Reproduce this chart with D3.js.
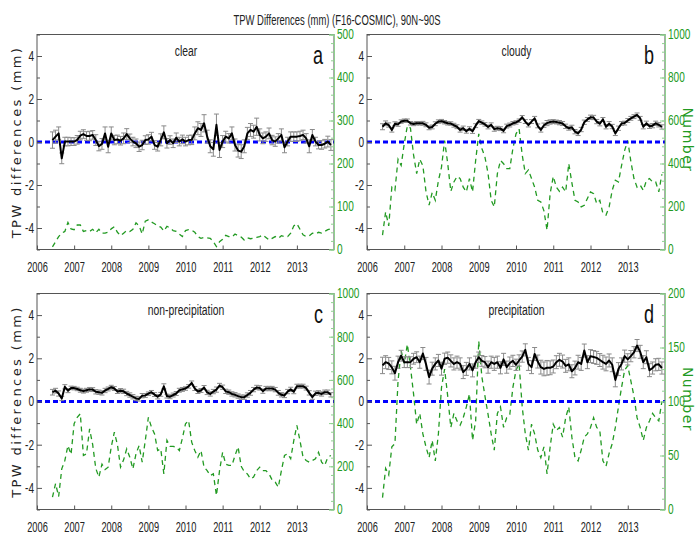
<!DOCTYPE html>
<html>
<head>
<meta charset="utf-8">
<script src="https://cdn.jsdelivr.net/npm/d3@7"></script>
<style>
  body { margin: 0; background: #fff; }
  svg text { font-family: "Liberation Sans", Arial, sans-serif; }
</style>
</head>
<body>
<script>
// monthly series, June 2006 .. Dec 2013
const firstMonth = [2006, 6]
const years = [2006, 2007, 2008, 2009, 2010, 2011, 2012, 2013]
const leftTicks = [-4, -2, 0, 2, 4]
const leftMinor = [-5, -3, -1, 1, 3, 5]
const panelNames = ["clear", "cloudy", "non-precipitation", "precipitation"]
const panelLetters = ["a", "b", "c", "d"]

const clearDiff = [0.09, 0.25, 0.40, -0.76, 0.02, 0.02, 0.02, 0.02, 0.10, 0.30,
  0.37, 0.28, 0.28, 0.33, 0.09, -0.19, -0.09, 0.40, -0.22, 0.40,
  0.09, 0.12, 0.06, 0.17, 0.37, 0.17, 0.02, -0.06, -0.22, -0.14,
  0.09, 0.12, 0.25, -0.14, -0.22, 0.10, 0.45, -0.06, 0.09, -0.06,
  0.20, 0.02, 0.12, 0.02, 0.09, 0.10, 0.40, 0.64, 0.56, 0.87,
  0.25, -0.20, -0.34, 0.80, -0.37, 0.02, 0.25, 0.17, 0.40, -0.14,
  -0.40, -0.45, -0.20, 0.40, 0.56, 0.48, 0.71, 0.33, 0.17, 0.25,
  0.40, 0.09, 0.02, 0.17, 0.33, -0.25, 0.02, 0.25, 0.25, 0.25,
  0.28, 0.33, 0.17, -0.20, 0.33, 0.02, -0.14, -0.14, -0.08, 0.02, -0.14]
const clearErr = [0.38, 0.30, 0.30, 0.25, 0.20, 0.20, 0.18, 0.18, 0.20, 0.20,
  0.20, 0.20, 0.22, 0.20, 0.25, 0.22, 0.25, 0.30, 0.28, 0.30,
  0.22, 0.20, 0.20, 0.25, 0.25, 0.20, 0.20, 0.20, 0.22, 0.22,
  0.20, 0.22, 0.20, 0.20, 0.20, 0.28, 0.30, 0.22, 0.20, 0.20,
  0.22, 0.20, 0.20, 0.20, 0.22, 0.22, 0.30, 0.30, 0.30, 0.40,
  0.30, 0.30, 0.32, 0.50, 0.35, 0.28, 0.25, 0.22, 0.30, 0.28,
  0.30, 0.32, 0.30, 0.28, 0.30, 0.30, 0.40, 0.28, 0.25, 0.22,
  0.25, 0.22, 0.22, 0.22, 0.28, 0.25, 0.20, 0.22, 0.22, 0.22,
  0.22, 0.22, 0.22, 0.30, 0.25, 0.20, 0.18, 0.20, 0.20, 0.25, 0.25]
const clearNum = [6, 18, 30, 38, 42, 63, 48, 46, 57, 57,
  42, 44, 42, 47, 39, 47, 38, 38, 40, 48,
  53, 40, 32, 38, 44, 42, 47, 62, 55, 36,
  66, 69, 64, 60, 55, 52, 43, 54, 50, 44,
  42, 36, 30, 44, 46, 45, 40, 30, 26, 28,
  27, 26, 18, 7, 18, 24, 33, 30, 29, 36,
  32, 29, 22, 27, 25, 26, 28, 30, 34, 28,
  22, 26, 30, 26, 32, 30, 30, 38, 55, 60,
  47, 34, 30, 32, 38, 36, 40, 38, 42, 46, 48]

const cloudyDiff = [0.71, 0.87, 0.79, 0.56, 0.85, 0.82, 0.95, 0.99, 0.99, 0.87,
  0.84, 0.87, 0.87, 0.87, 0.80, 0.66, 0.70, 0.85, 0.95, 0.97,
  0.92, 0.87, 0.86, 0.78, 0.71, 0.56, 0.64, 0.50, 0.62, 0.50,
  0.76, 0.97, 0.90, 0.82, 0.70, 0.80, 0.60, 0.64, 0.62, 0.52,
  0.74, 0.79, 0.87, 0.91, 0.99, 1.15, 0.95, 0.79, 0.95, 1.10,
  0.75, 0.56, 0.78, 0.88, 0.93, 0.95, 0.93, 0.90, 0.86, 0.73,
  0.64, 0.68, 0.48, 0.40, 0.58, 0.92, 1.05, 1.15, 1.14, 0.95,
  0.85, 1.05, 0.71, 0.85, 0.72, 0.40, 0.64, 0.86, 0.88, 1.00,
  1.10, 1.18, 1.26, 1.10, 0.71, 0.87, 0.73, 0.76, 0.87, 0.80, 0.70]
const cloudyErr = [0.14, 0.11, 0.10, 0.10, 0.09, 0.09, 0.08, 0.08, 0.08, 0.08,
  0.08, 0.08, 0.08, 0.09, 0.09, 0.09, 0.09, 0.09, 0.08, 0.08,
  0.08, 0.08, 0.08, 0.09, 0.09, 0.10, 0.10, 0.09, 0.09, 0.10,
  0.09, 0.08, 0.08, 0.08, 0.09, 0.09, 0.10, 0.09, 0.09, 0.09,
  0.09, 0.09, 0.08, 0.08, 0.08, 0.08, 0.09, 0.09, 0.09, 0.09,
  0.09, 0.10, 0.10, 0.12, 0.10, 0.09, 0.09, 0.10, 0.09, 0.10,
  0.09, 0.10, 0.10, 0.10, 0.10, 0.10, 0.09, 0.10, 0.10, 0.10,
  0.10, 0.09, 0.10, 0.10, 0.10, 0.10, 0.10, 0.09, 0.09, 0.09,
  0.09, 0.09, 0.09, 0.09, 0.10, 0.10, 0.10, 0.10, 0.10, 0.10, 0.10]
const cloudyNum = [67, 175, 110, 290, 275, 420, 391, 492, 575, 565,
  440, 353, 420, 390, 270, 206, 265, 229, 320, 383,
  507, 400, 270, 314, 340, 330, 290, 268, 330, 268,
  414, 538, 470, 430, 353, 229, 198, 353, 414, 399,
  376, 376, 470, 538, 561, 440, 353, 370, 330, 290,
  229, 221, 180, 90, 260, 340, 290, 270, 290, 268,
  400, 310, 229, 221, 198, 206, 237, 268, 260, 214,
  229, 168, 160, 198, 275, 322, 314, 390, 461, 507,
  410, 330, 290, 300, 275, 320, 330, 314, 314, 268, 350]

const nonPrecipDiff = [0.43, 0.50, 0.37, 0.14, 0.68, 0.50, 0.63, 0.62, 0.58, 0.52,
  0.48, 0.52, 0.56, 0.55, 0.45, 0.43, 0.40, 0.51, 0.58, 0.66,
  0.60, 0.46, 0.50, 0.47, 0.37, 0.30, 0.22, 0.14, 0.12, 0.27,
  0.28, 0.36, 0.43, 0.32, 0.22, 0.33, 0.70, 0.25, 0.22, 0.30,
  0.37, 0.52, 0.56, 0.60, 0.70, 0.86, 0.60, 0.46, 0.51, 0.65,
  0.42, 0.35, 0.46, 0.55, 0.74, 0.66, 0.47, 0.43, 0.35, 0.31,
  0.25, 0.20, 0.20, 0.30, 0.40, 0.55, 0.65, 0.63, 0.48, 0.60,
  0.60, 0.60, 0.55, 0.40, 0.31, 0.28, 0.46, 0.56, 0.45, 0.71,
  0.71, 0.71, 0.62, 0.40, 0.20, 0.38, 0.40, 0.35, 0.43, 0.43, 0.31]
const nonPrecipErr = [0.13, 0.11, 0.12, 0.10, 0.10, 0.09, 0.08, 0.08, 0.08, 0.09,
  0.09, 0.09, 0.09, 0.09, 0.10, 0.10, 0.10, 0.10, 0.09, 0.09,
  0.09, 0.09, 0.10, 0.10, 0.10, 0.10, 0.10, 0.10, 0.10, 0.10,
  0.09, 0.08, 0.08, 0.09, 0.10, 0.09, 0.12, 0.09, 0.09, 0.09,
  0.09, 0.09, 0.09, 0.08, 0.08, 0.09, 0.09, 0.09, 0.09, 0.09,
  0.10, 0.10, 0.10, 0.12, 0.10, 0.10, 0.10, 0.10, 0.10, 0.10,
  0.10, 0.10, 0.10, 0.10, 0.11, 0.10, 0.10, 0.10, 0.10, 0.10,
  0.10, 0.10, 0.10, 0.11, 0.10, 0.10, 0.10, 0.10, 0.09, 0.09,
  0.09, 0.09, 0.09, 0.10, 0.10, 0.10, 0.10, 0.10, 0.10, 0.10, 0.10]
const nonPrecipNum = [57, 120, 60, 188, 227, 296, 255, 397, 427, 443,
  250, 258, 373, 300, 190, 150, 210, 185, 196, 290,
  358, 300, 196, 230, 281, 242, 188, 258, 296, 219,
  319, 427, 381, 350, 273, 281, 165, 320, 292, 292,
  289, 273, 330, 397, 412, 312, 273, 242, 273, 196,
  180, 157, 165, 65, 180, 265, 210, 204, 204, 250,
  290, 200, 175, 165, 142, 150, 180, 196, 180, 180,
  165, 137, 127, 103, 180, 250, 258, 235, 319, 389,
  319, 242, 227, 219, 227, 235, 265, 219, 204, 242, 250]

const precipDiff = [1.67, 1.82, 1.76, 1.58, 1.31, 1.82, 2.12, 1.82, 1.82, 1.82,
  1.98, 2.05, 1.82, 2.22, 1.74, 1.13, 1.52, 1.74, 1.90, 1.52,
  1.98, 2.03, 1.88, 1.74, 1.82, 1.74, 1.36, 1.51, 1.74, 1.44,
  1.82, 2.05, 1.88, 1.82, 1.59, 1.82, 1.74, 1.82, 1.56, 1.95,
  1.59, 1.78, 1.88, 1.70, 1.90, 2.08, 2.39, 1.74, 1.59, 2.20,
  1.85, 1.59, 1.51, 1.56, 1.56, 1.62, 1.82, 1.93, 1.85, 1.65,
  1.72, 1.40, 1.55, 1.82, 1.74, 2.36, 1.82, 2.10, 2.06, 2.02,
  1.92, 1.82, 1.74, 1.90, 1.70, 1.00, 1.50, 1.74, 2.10, 1.95,
  2.10, 2.28, 2.59, 2.30, 1.82, 2.05, 1.45, 1.55, 1.70, 1.72, 1.55]
const precipErr = [0.38, 0.30, 0.28, 0.30, 0.32, 0.28, 0.25, 0.25, 0.25, 0.25,
  0.25, 0.25, 0.28, 0.28, 0.30, 0.32, 0.30, 0.28, 0.28, 0.30,
  0.26, 0.26, 0.28, 0.28, 0.28, 0.28, 0.30, 0.30, 0.28, 0.30,
  0.28, 0.24, 0.25, 0.26, 0.28, 0.28, 0.30, 0.28, 0.28, 0.28,
  0.28, 0.28, 0.26, 0.26, 0.26, 0.26, 0.28, 0.30, 0.30, 0.30,
  0.30, 0.32, 0.32, 0.34, 0.32, 0.30, 0.30, 0.30, 0.30, 0.30,
  0.30, 0.30, 0.32, 0.32, 0.30, 0.30, 0.30, 0.30, 0.30, 0.30,
  0.30, 0.32, 0.32, 0.30, 0.32, 0.32, 0.30, 0.28, 0.28, 0.26,
  0.26, 0.26, 0.28, 0.30, 0.30, 0.30, 0.30, 0.28, 0.28, 0.28, 0.28]
const precipNum = [11, 38, 32, 58, 61, 119, 147, 135, 153, 132,
  107, 79, 89, 70, 58, 48, 64, 45, 70, 113,
  130, 105, 76, 89, 82, 78, 85, 95, 107, 64,
  82, 156, 123, 105, 88, 70, 55, 89, 95, 76,
  85, 88, 113, 129, 135, 95, 70, 55, 79, 70,
  55, 48, 58, 33, 58, 79, 73, 76, 67, 85,
  95, 67, 48, 45, 55, 67, 70, 76, 85, 76,
  73, 45, 40, 52, 61, 76, 95, 113, 129, 133,
  119, 105, 85, 76, 64, 76, 82, 89, 85, 82, 100]

const numMax = [500, 1000, 1000, 200]
const numStep = [100, 200, 200, 50]
const numMinor = [20, 40, 40, 10]

const diffs = [clearDiff, cloudyDiff, nonPrecipDiff, precipDiff]
const errs = [clearErr, cloudyErr, nonPrecipErr, precipErr]
const nums = [clearNum, cloudyNum, nonPrecipNum, precipNum]

const width = 697, height = 537
const green = "#229a22"
const boxes = [
  { left: 37, right: 334, top: 34.5, bottom: 249.5 },
  { left: 367, right: 665, top: 34.5, bottom: 249.5 },
  { left: 37, right: 334, top: 293.5, bottom: 509.5 },
  { left: 367, right: 665, top: 293.5, bottom: 509.5 }
]

const monthX = i => firstMonth[0] + (firstMonth[1] - 1 + i) / 12

// squeeze glyphs horizontally, the original uses a condensed face
const narrow = (sel, k) => sel.each(function () {
  const w = this.getComputedTextLength()
  d3.select(this).attr("textLength", w * k).attr("lengthAdjust", "spacingAndGlyphs")
})

const svg = d3.select("body").append("svg")
  .attr("width", width).attr("height", height)
  .attr("viewBox", [0, 0, width, height])

svg.append("text")
  .attr("x", 337).attr("y", 25)
  .attr("text-anchor", "middle")
  .attr("font-size", 14)
  .attr("fill", "#222")
  .text("TPW Differences (mm) (F16-COSMIC), 90N~90S")
  .attr("textLength", 207)
  .attr("lengthAdjust", "spacingAndGlyphs")

boxes.forEach((b, p) => {
  const x = d3.scaleLinear().domain([2006, 2014]).range([b.left, b.right])
  const y = d3.scaleLinear().domain([-5, 5]).range([b.bottom, b.top])
  const y2 = d3.scaleLinear().domain([0, numMax[p]]).range([b.bottom, b.top])
  const g = svg.append("g")

  // number of samples (right axis)
  const numLine = d3.line()
    .x((d, i) => x(monthX(i)))
    .y(d => y2(d))
  g.append("path")
    .datum(nums[p])
    .attr("fill", "none")
    .attr("stroke", green)
    .attr("stroke-width", 1.3)
    .attr("stroke-dasharray", "5,4")
    .attr("d", numLine)

  // zero line
  g.append("line")
    .attr("x1", b.left).attr("x2", b.right)
    .attr("y1", y(0)).attr("y2", y(0))
    .attr("stroke", "#0000ff")
    .attr("stroke-width", 3)
    .attr("stroke-dasharray", "5,3")

  // error bars
  const eb = g.append("g").attr("stroke", "#8a8a8a").attr("stroke-width", 1)
  diffs[p].forEach((v, i) => {
    const xi = x(monthX(i))
    const lo = y(v - errs[p][i]), hi = y(v + errs[p][i])
    eb.append("line").attr("x1", xi).attr("x2", xi).attr("y1", lo).attr("y2", hi)
    eb.append("line").attr("x1", xi - 2.5).attr("x2", xi + 2.5).attr("y1", lo).attr("y2", lo)
    eb.append("line").attr("x1", xi - 2.5).attr("x2", xi + 2.5).attr("y1", hi).attr("y2", hi)
  })

  const diffLine = d3.line()
    .x((d, i) => x(monthX(i)))
    .y(d => y(d))
  g.append("path")
    .datum(diffs[p])
    .attr("fill", "none")
    .attr("stroke", "#000")
    .attr("stroke-width", 2)
    .attr("stroke-linejoin", "round")
    .attr("d", diffLine)

  // frame
  g.append("rect")
    .attr("x", b.left).attr("y", b.top)
    .attr("width", b.right - b.left).attr("height", b.bottom - b.top)
    .attr("fill", "none")
    .attr("stroke", "#555")
    .attr("stroke-width", 1)

  // left axis
  const yAxis = g.append("g")
    .attr("transform", `translate(${b.left},0)`)
    .call(d3.axisLeft(y).tickValues(leftTicks).tickSize(-5).tickPadding(3).tickFormat(d => String(d)))
  yAxis.select(".domain").remove()
  yAxis.selectAll("text").attr("font-size", 14).attr("fill", "#222").call(narrow, 0.72)
  yAxis.selectAll("line").attr("stroke", "#555")
  const yMinor = g.append("g")
    .attr("transform", `translate(${b.left},0)`)
    .call(d3.axisLeft(y).tickValues(leftMinor).tickSize(-3).tickFormat(""))
  yMinor.select(".domain").remove()
  yMinor.selectAll("line").attr("stroke", "#555")

  // right axis, labels squeezed with a scale so they stay inside the page
  const rAxis = g.append("g")
    .attr("transform", `translate(${b.right},0)`)
    .call(d3.axisRight(y2).tickValues(d3.range(0, numMax[p] + 1, numStep[p])).tickSize(-5).tickPadding(3).tickFormat(d3.format("d")))
  rAxis.select(".domain").attr("stroke", "#8fd08f")
  rAxis.selectAll("text")
    .attr("font-size", 14)
    .attr("fill", green)
    .attr("x", 3 / 0.72)
    .attr("transform", "scale(0.72,1)")
  rAxis.selectAll("line").attr("stroke", "#8fd08f")
  const rMinor = g.append("g")
    .attr("transform", `translate(${b.right},0)`)
    .call(d3.axisRight(y2).tickValues(d3.range(0, numMax[p] + 1, numMinor[p])).tickSize(-3).tickFormat(""))
  rMinor.select(".domain").remove()
  rMinor.selectAll("line").attr("stroke", "#8fd08f")

  // bottom axis
  const xAxis = g.append("g")
    .attr("transform", `translate(0,${b.bottom})`)
    .call(d3.axisBottom(x).tickValues(years).tickSize(-4).tickPadding(13).tickFormat(d3.format("d")))
  xAxis.select(".domain").remove()
  xAxis.selectAll("text").attr("font-size", 14).attr("fill", "#222").call(narrow, 0.66)
  xAxis.selectAll("line").attr("stroke", "#555")

  // labels
  g.append("text")
    .attr("x", (b.left + b.right) / 2 + 0.5).attr("y", b.top + 21)
    .attr("text-anchor", "middle")
    .attr("font-size", 14)
    .attr("fill", "#222")
    .text(panelNames[p])
    .call(narrow, 0.74)
  g.append("text")
    .attr("x", b.right - 11).attr("y", b.top + 29)
    .attr("text-anchor", "end")
    .attr("font-size", 25)
    .attr("fill", "#111")
    .text(panelLetters[p])
    .call(narrow, 0.72)

  const mid = (b.top + b.bottom) / 2
  if (p % 2 === 0) {
    g.append("text")
      .attr("transform", `translate(21,${mid}) rotate(-90)`)
      .attr("text-anchor", "middle")
      .attr("font-size", 13)
      .attr("fill", "#222")
      .attr("letter-spacing", 2.4)
      .style("font-family", "'DejaVu Sans', sans-serif")
      .text("TPW differences (mm)")
  } else {
    g.append("text")
      .attr("transform", `translate(683,${mid - 2}) rotate(90)`)
      .attr("text-anchor", "middle")
      .attr("font-size", 14)
      .attr("fill", green)
      .attr("letter-spacing", 1.5)
      .style("font-family", "'DejaVu Sans', sans-serif")
      .text("Number")
  }
})
</script>
</body>
</html>
